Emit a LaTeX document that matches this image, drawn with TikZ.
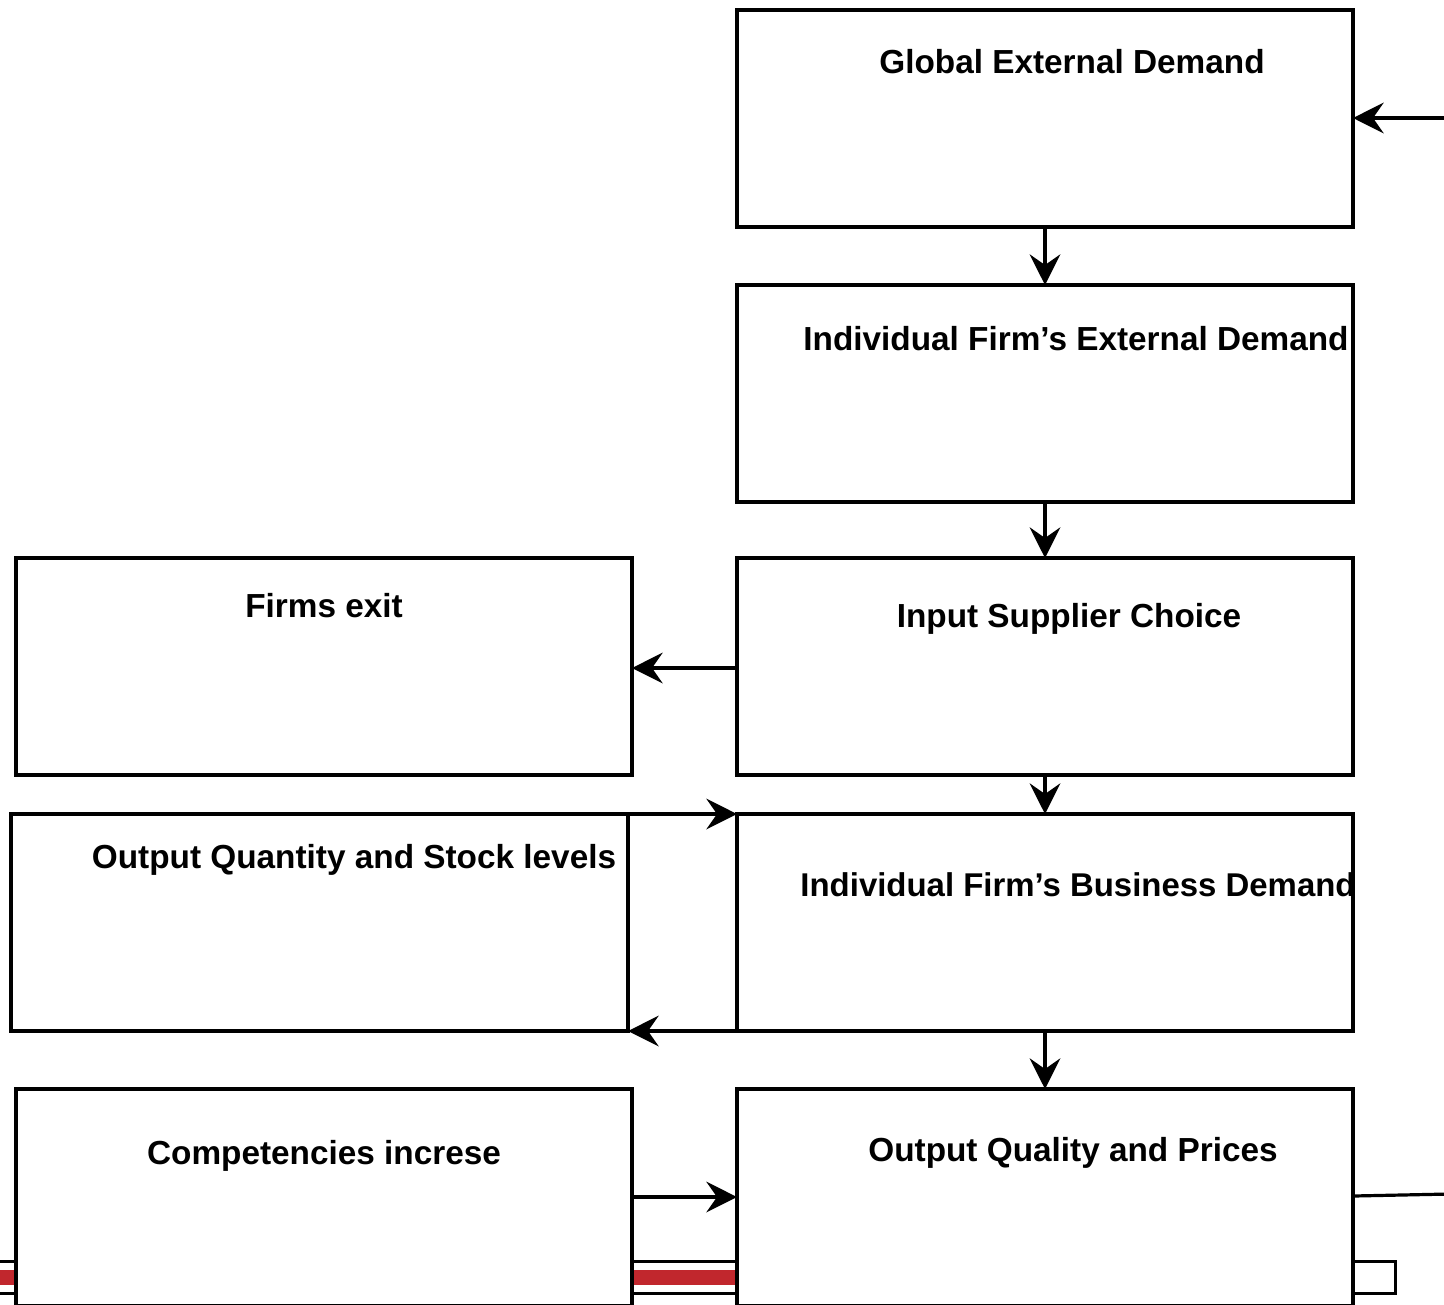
\documentclass[tikz,border=0pt]{standalone}
\usepackage{fontspec}
\setmainfont{Liberation Sans}
\usetikzlibrary{arrows.meta}
\definecolor{stripred}{RGB}{193,39,45}
\begin{document}
\begin{tikzpicture}[x=0.75pt,y=-0.75pt,
  box/.style={draw=black,fill=white,line width=3pt,inner sep=0pt,outer sep=0pt,
    minimum width=462pt,minimum height=162.75pt,anchor=north west},
  lbl/.style={font=\bfseries\fontsize{25}{30}\selectfont,anchor=base,inner sep=0pt},
  conn/.style={line width=2.4pt,-{Stealth[length=23pt,width=23pt,inset=8pt]}},
  plain/.style={line width=2.4pt}]
\useasboundingbox (0,0) rectangle (1444,1304);
\clip (0,0) rectangle (1444,1304);
\fill[white] (0,0) rectangle (1444,1304);
% background strip
\draw[line width=2.25pt,fill=white] (-10,1261) rectangle (1395,1293);
\fill[stripred] (-10,1270) rectangle (1353,1285);
% boxes
\node[box] (ged) at (737,10) {};
\node[box] (ied) at (737,285) {};
\node[box] (isc) at (737,558) {};
\node[box] (fex) at (16,558) {};
\node[box,minimum width=462.75pt] (oqs) at (11,814) {};
\node[box] (ibd) at (737,814) {};
\node[box] (cin) at (16,1089) {};
\node[box] (oqp) at (737,1089) {};
% labels
\node[lbl] (tged) at (1072,73) {Global External Demand};
\node[lbl] (tied) at (1076,350) {Individual Firm’s External Demand};
\node[lbl] (tisc) at (1069,627) {Input Supplier Choice};
\node[lbl] (tfex) at (324,617) {Firms exit};
\node[lbl] (toqs) at (354,868) {Output Quantity and Stock levels};
\node[lbl,font=\bfseries\fontsize{24.7}{30}\selectfont] (tibd) at (1078,896) {Individual Firm’s Business Demand};
\node[lbl] (tcin) at (324,1164) {Competencies increse};
\node[lbl] (toqp) at (1073,1161) {Output Quality and Prices};
% connectors
\coordinate (rin) at (1450,118);
\coordinate (rout) at (1450,1194);
\draw[conn] (rin) -- (ged.east |- rin);
\draw[conn] (ged.south -| 1045,0) -- (ied.north -| 1045,0);
\draw[conn] (ied.south -| 1045,0) -- (isc.north -| 1045,0);
\draw[conn] (isc.west |- 0,668) -- (fex.east |- 0,668);
\draw[conn] (isc.south -| 1045,0) -- (ibd.north -| 1045,0);
\draw[conn] (oqs.north east) -- (ibd.north west);
\draw[conn] (ibd.south west) -- (oqs.south east);
\draw[conn] (ibd.south -| 1045,0) -- (oqp.north -| 1045,0);
\draw[conn] (cin.east |- 0,1197) -- (oqp.west |- 0,1197);
\draw[plain] (oqp.east |- 0,1196) -- (rout);
\end{tikzpicture}
\end{document}
